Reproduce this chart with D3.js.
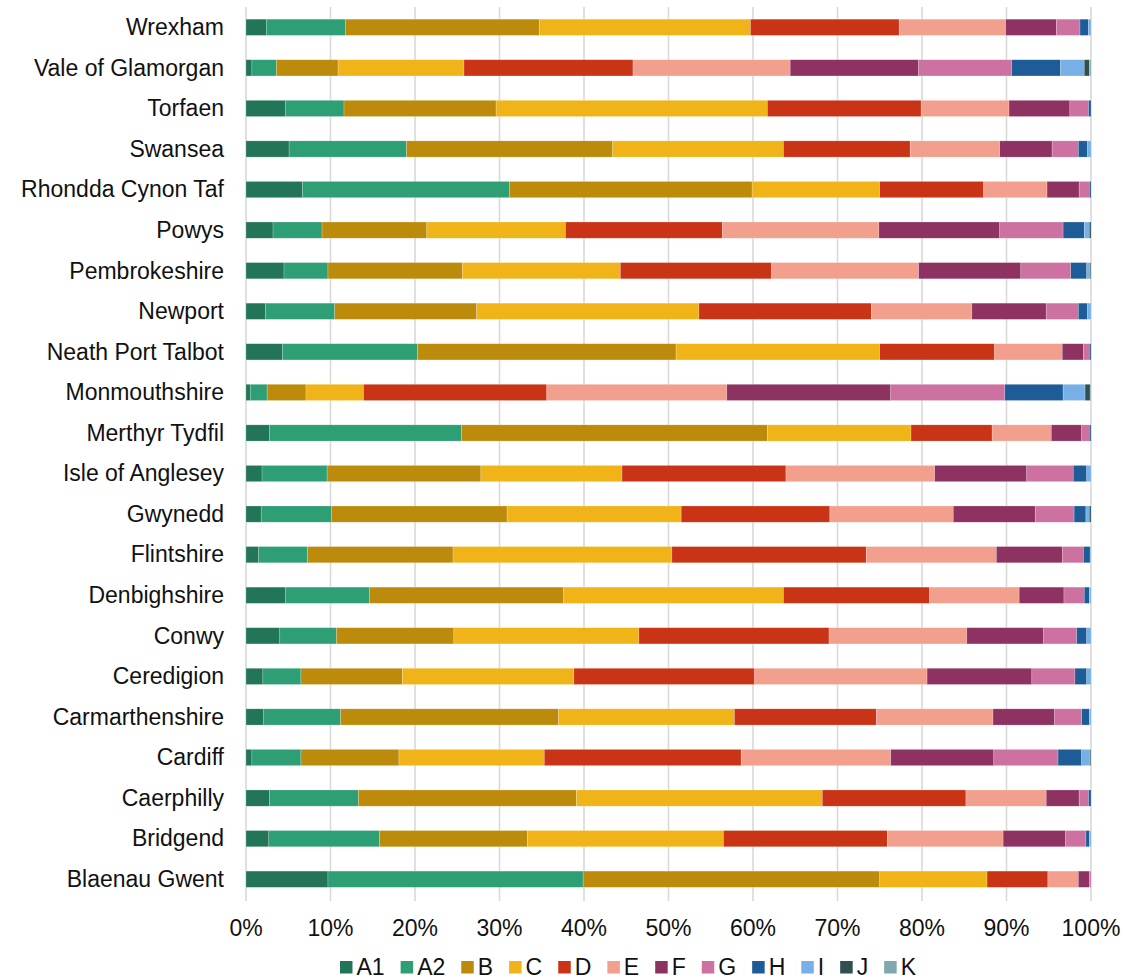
<!DOCTYPE html>
<html>
<head>
<meta charset="utf-8">
<script src="https://cdn.jsdelivr.net/npm/d3@7"></script>
<style>
  html, body { margin: 0; padding: 0; background: #fff; }
  svg { display: block; font-family: "Liberation Sans", Arial, sans-serif; }
</style>
</head>
<body>
<svg id="chart" width="1127" height="980"></svg>
<script>
const categories = ["Wrexham","Vale of Glamorgan","Torfaen","Swansea","Rhondda Cynon Taf","Powys","Pembrokeshire","Newport","Neath Port Talbot","Monmouthshire","Merthyr Tydfil","Isle of Anglesey","Gwynedd","Flintshire","Denbighshire","Conwy","Ceredigion","Carmarthenshire","Cardiff","Caerphilly","Bridgend","Blaenau Gwent"];
const seriesNames = ["A1","A2","B","C","D","E","F","G","H","I","J","K"];
const seriesColors = ["#227556","#2e9e74","#bd8b0c","#f0b419","#c93316","#f29f8e","#8e3262","#cc71a0","#1d5c97","#77b0e6","#2f4f50","#7fa8b0"];

const A1 = [2.4,0.7,4.7,5.1,6.7,3.2,4.5,2.3,4.3,0.5,2.8,1.9,1.8,1.5,4.7,4.0,2.0,2.1,0.7,2.8,2.7,9.7];
const A2 = [9.35,2.9,6.9,13.9,24.5,5.8,5.2,8.2,16.0,2.0,22.7,7.7,8.3,5.8,9.9,6.7,4.5,9.1,5.8,10.5,13.1,30.2];
const B  = [22.95,7.3,18.0,24.4,28.7,12.4,15.9,16.8,30.6,4.6,36.2,18.2,20.8,17.2,23.0,13.9,12.0,25.8,11.6,25.8,17.5,35.1];
const C  = [25.0,14.9,32.1,20.2,15.1,16.4,18.7,26.3,24.1,6.8,17.0,16.7,20.6,25.9,26.0,21.9,20.3,20.8,17.2,29.1,23.2,12.7];
const D  = [17.6,20.0,18.2,15.0,12.3,18.6,17.9,20.4,13.6,21.7,9.6,19.4,17.6,23.0,17.3,22.5,21.4,16.8,23.3,17.0,19.4,7.2];
const E  = [12.6,18.6,10.4,10.6,7.5,18.5,17.4,11.9,8.0,21.3,7.0,17.6,14.6,15.4,10.6,16.3,20.4,13.8,17.7,9.5,13.7,3.6];
const F  = [6.0,15.2,7.2,6.2,3.8,14.3,12.1,8.8,2.5,19.4,3.6,10.9,9.7,7.8,5.3,9.1,12.4,7.3,12.2,3.9,7.4,1.3];
const G  = [2.8,11.0,2.2,3.1,1.2,7.5,5.9,3.8,0.7,13.5,0.9,5.5,4.6,2.5,2.4,3.9,5.1,3.2,7.6,1.1,2.4,0.2];
const H  = [1.0,5.8,0.3,1.1,0.2,2.5,1.9,1.1,0.2,6.9,0.2,1.6,1.4,0.8,0.6,1.2,1.4,0.9,2.8,0.3,0.4,0];
const I  = [0.3,2.8,0,0.4,0,0.6,0.4,0.4,0,2.6,0,0.5,0.4,0.1,0.2,0.5,0.5,0.2,1.0,0,0.2,0];
const J  = [0,0.6,0,0,0,0.2,0.1,0,0,0.6,0,0,0.2,0,0,0,0,0,0.1,0,0,0];
const K  = [0,0.2,0,0,0,0,0,0,0,0.1,0,0,0,0,0,0,0,0,0,0,0,0];
const tickValues = [0,0.1,0.2,0.3,0.4,0.5,0.6,0.7,0.8,0.9,1];

const seriesValues = [A1,A2,B,C,D,E,F,G,H,I,J,K];
const table = categories.map((c, i) => {
  const row = { category: c };
  seriesNames.forEach((s, k) => row[s] = seriesValues[k][i]);
  return row;
});

const svg = d3.select("#chart");
const x = d3.scaleLinear().domain([0, 1]).range([246, 1091]);
const y = d3.scaleBand().domain(categories).range([7, 899.5]).paddingInner(0.6).paddingOuter(0.3);
const color = d3.scaleOrdinal().domain(seriesNames).range(seriesColors);

// gridlines
svg.append("g").selectAll("line").data(tickValues).join("line")
  .attr("x1", d => x(d)).attr("x2", d => x(d))
  .attr("y1", 7).attr("y2", 901)
  .attr("stroke", "#d9d9d9").attr("stroke-width", 1.6);

// stacked bars
const stacked = d3.stack().keys(seriesNames).offset(d3.stackOffsetExpand)(table);
svg.append("g").selectAll("g").data(stacked).join("g")
  .attr("fill", d => color(d.key))
  .selectAll("rect").data(d => d).join("rect")
  .attr("x", d => x(d[0]))
  .attr("width", d => Math.max(0, x(d[1]) - x(d[0])))
  .attr("y", d => y(d.data.category))
  .attr("height", y.bandwidth())
  .attr("stroke", "#ffffff").attr("stroke-opacity", 0.35).attr("stroke-width", 0.6);

// category labels
svg.append("g").selectAll("text").data(categories).join("text")
  .attr("x", 224).attr("y", d => y(d) + y.bandwidth() / 2)
  .attr("dy", "0.34em").attr("text-anchor", "end")
  .attr("font-size", 23).attr("fill", "#111")
  .text(d => d);

// x tick labels
const fmt = d3.format(".0%");
svg.append("g").selectAll("text").data(tickValues).join("text")
  .attr("x", d => x(d)).attr("y", 936)
  .attr("text-anchor", "middle")
  .attr("font-size", 23).attr("fill", "#111")
  .text(d => fmt(d));

// legend
const legend = svg.append("g");
const items = legend.selectAll("g").data(seriesNames).join("g");
items.append("rect").attr("width", 12.5).attr("height", 12.5).attr("y", 961)
  .attr("fill", d => color(d));
items.append("text").attr("x", 16.5).attr("y", 974.5)
  .attr("font-size", 23).attr("fill", "#111").text(d => d);
let cx = 0;
const offsets = [];
items.each(function() {
  const w = 16.5 + this.querySelector("text").getComputedTextLength();
  offsets.push(cx);
  cx += w + 16;
});
const total = cx - 16;
const start = 628 - total / 2;
items.attr("transform", (d, i) => `translate(${start + offsets[i]},0)`);
</script>
</body>
</html>
